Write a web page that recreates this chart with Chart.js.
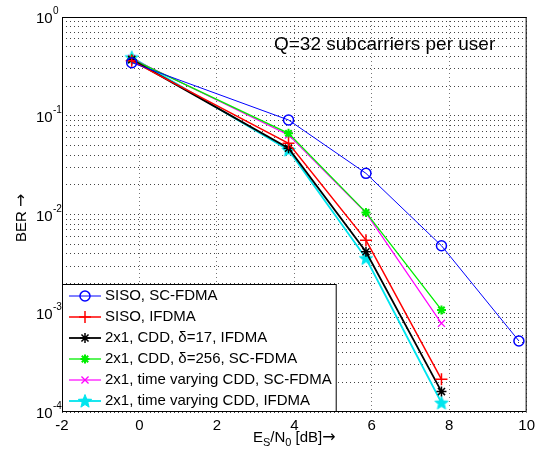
<!DOCTYPE html>
<html>
<head>
<meta charset="utf-8">
<script src="https://cdn.jsdelivr.net/npm/chart.js@4/dist/chart.umd.min.js"></script>
<style>
  html, body { margin: 0; padding: 0; background: #fff; }
  canvas { display: block; }
</style>
</head>
<body>
<canvas id="berChart" width="540" height="449"></canvas>
<script>
// Es/N0 points (dB)
var snrLong = [-0.2, 3.85, 5.85, 7.8, 9.8];
var snrShort = [-0.2, 3.85, 5.85, 7.8];

// BER values
var berSisoSc = [0.345, 0.0906, 0.0261, 0.00483, 0.000524];
var berSisoIf = [0.36, 0.0526, 0.0055, 0.000214];
var berCdd17 = [0.37, 0.047, 0.0042, 0.000161];
var berCdd256 = [0.375, 0.0664, 0.0105, 0.00108];
var berTvSc = [0.38, 0.064, 0.0104, 0.00079];
var berTvIf = [0.39, 0.045, 0.0036, 0.000124];

var seriesLabels = [
    "SISO, SC-FDMA",
    "SISO, IFDMA",
    "2x1, CDD, \u03b4=17, IFDMA",
    "2x1, CDD, \u03b4=256, SC-FDMA",
    "2x1, time varying CDD, SC-FDMA",
    "2x1, time varying CDD, IFDMA"
];

var xTicks = [-2, 0, 2, 4, 6, 8, 10];
var yDecades = [-4, -3, -2, -1, 0];

var FONT = "Liberation Sans, Arial, sans-serif";
var ARROW_FONT = "DejaVu Sans, sans-serif";

function pts(xs, ys) {
    var out = [];
    for (var i = 0; i < ys.length; i++) out.push({ x: xs[i], y: ys[i] });
    return out;
}

// filled pentagram marker like matlab 'p'
function pentagram(color) {
    var c = document.createElement("canvas");
    c.width = 16; c.height = 16;
    var g = c.getContext("2d");
    g.fillStyle = color;
    g.strokeStyle = color;
    g.lineWidth = 1;
    g.beginPath();
    for (var i = 0; i < 10; i++) {
        var r = (i % 2 == 0) ? 7 : 3;
        var a = -Math.PI / 2 + i * Math.PI / 5;
        var px = 8 + r * Math.cos(a), py = 8.5 + r * Math.sin(a);
        if (i == 0) g.moveTo(px, py); else g.lineTo(px, py);
    }
    g.closePath();
    g.fill();
    g.stroke();
    return c;
}

var datasets = [
    { label: seriesLabels[0], data: pts(snrLong, berSisoSc), borderColor: "#0000ff", backgroundColor: "rgba(0,0,0,0)",
      borderWidth: 1, pointStyle: "circle", pointRadius: 5, pointBorderWidth: 1.5 },
    { label: seriesLabels[1], data: pts(snrShort, berSisoIf), borderColor: "#ff0000", backgroundColor: "#ff0000",
      borderWidth: 1.5, pointStyle: "cross", pointRadius: 6, pointBorderWidth: 1.5 },
    { label: seriesLabels[2], data: pts(snrShort, berCdd17), borderColor: "#000000", backgroundColor: "#000000",
      borderWidth: 1.8, pointStyle: "star", pointRadius: 5, pointBorderWidth: 1.5 },
    { label: seriesLabels[3], data: pts(snrShort, berCdd256), borderColor: "#00ee00", backgroundColor: "#00ee00",
      borderWidth: 1.3, pointStyle: "star", pointRadius: 4.5, pointBorderWidth: 2 },
    { label: seriesLabels[4], data: pts(snrShort, berTvSc), borderColor: "#ff00ff", backgroundColor: "#ff00ff",
      borderWidth: 1.2, pointStyle: "crossRot", pointRadius: 5, pointBorderWidth: 1.3 },
    { label: seriesLabels[5], data: pts(snrShort, berTvIf), borderColor: "#00e5ee", backgroundColor: "#00e5ee",
      borderWidth: 1.8, pointStyle: pentagram("#00e5ee"), pointRadius: 7, pointBorderWidth: 1 }
];

var decorPlugin = {
    id: "decor",
    afterDatasetsDraw: function (chart) {
        var ctx = chart.ctx, a = chart.chartArea;
        var ys = chart.scales.y;
        ctx.save();

        // axes box
        ctx.strokeStyle = "#000";
        ctx.lineWidth = 1;
        ctx.strokeRect(a.left + 0.5, a.top + 0.5, a.right - a.left - 1, a.bottom - a.top - 1);

        // y tick labels 10^n
        ctx.fillStyle = "#000";
        ctx.textBaseline = "alphabetic";
        for (var i = 0; i < yDecades.length; i++) {
            var y = ys.getPixelForValue(Math.pow(10, yDecades[i]));
            ctx.font = "15px " + FONT;
            ctx.textAlign = "left";
            ctx.fillText("10", 36, y + 6);
            ctx.font = "10px " + FONT;
            ctx.fillText(yDecades[i] == 0 ? "0" : "-" + Math.abs(yDecades[i]), 53, y - 3);
        }

        // y title
        ctx.save();
        ctx.translate(26, 220);
        ctx.rotate(-Math.PI / 2);
        ctx.font = "15px " + FONT;
        ctx.textAlign = "left";
        var bw = ctx.measureText("BER ").width;
        ctx.fillText("BER ", -22, 0);
        ctx.font = "16px " + ARROW_FONT;
        ctx.fillText("\u2192", -22 + bw, 0);
        ctx.restore();

        // x title with subscripts
        var cx = (a.left + a.right) / 2;
        var parts = [["E", "15px " + FONT, 0], ["S", "11px " + FONT, 4], ["/N", "15px " + FONT, 0],
                     ["0", "11px " + FONT, 4], [" [dB]", "15px " + FONT, 0], ["\u2192", "16px " + ARROW_FONT, 0]];
        var total = 0;
        for (var i = 0; i < parts.length; i++) {
            ctx.font = parts[i][1];
            total += ctx.measureText(parts[i][0]).width;
        }
        var px = cx - total / 2;
        ctx.textAlign = "left";
        for (var i = 0; i < parts.length; i++) {
            ctx.font = parts[i][1];
            ctx.fillText(parts[i][0], px, 442 + parts[i][2]);
            px += ctx.measureText(parts[i][0]).width;
        }

        // annotation
        ctx.font = "19px " + FONT;
        ctx.fillText("Q=32 subcarriers per user", 274, 50);

        // legend inside, bottom-left
        ctx.font = "15px " + FONT;
        var maxW = 0;
        for (var i = 0; i < seriesLabels.length; i++) {
            maxW = Math.max(maxW, ctx.measureText(seriesLabels[i]).width);
        }
        var rowH = 21;
        var boxW = 43 + maxW + 4;
        var boxH = rowH * seriesLabels.length + 2;
        var bx = a.left, by = a.bottom - boxH;
        ctx.fillStyle = "#fff";
        ctx.fillRect(bx, by, boxW, boxH);
        ctx.strokeStyle = "#000";
        ctx.lineWidth = 1;
        ctx.strokeRect(bx + 0.5, by + 0.5, boxW, boxH - 1);
        for (var i = 0; i < chart.data.datasets.length; i++) {
            var ds = chart.data.datasets[i];
            var ry = by + 12 + i * rowH;
            ctx.strokeStyle = ds.borderColor;
            ctx.lineWidth = ds.borderWidth;
            ctx.beginPath();
            ctx.moveTo(bx + 7, ry);
            ctx.lineTo(bx + 39, ry);
            ctx.stroke();
            ctx.fillStyle = ds.backgroundColor;
            ctx.lineWidth = ds.pointBorderWidth;
            Chart.helpers.drawPoint(ctx, { pointStyle: ds.pointStyle, radius: ds.pointRadius, rotation: 0, borderWidth: ds.pointBorderWidth }, bx + 23, ry);
            ctx.fillStyle = "#000";
            ctx.textBaseline = "middle";
            ctx.fillText(ds.label, bx + 43, ry);
        }
        ctx.restore();
    }
};

new Chart("berChart", {
    type: "line",
    data: { datasets: datasets },
    options: {
        responsive: false,
        animation: false,
        devicePixelRatio: 1,
        layout: { padding: { top: 17, right: 13, left: 0, bottom: 0 } },
        plugins: { legend: { display: false }, tooltip: { enabled: false } },
        elements: { line: { tension: 0 } },
        scales: {
            x: {
                type: "linear",
                min: -2,
                max: 10,
                afterBuildTicks: function (s) {
                    s.ticks = xTicks.map(function (v) { return { value: v }; });
                },
                afterFit: function (s) { s.height = 37; },
                grid: { color: "#777", drawTicks: false, lineWidth: 1 },
                border: { display: false, dash: [1, 3] },
                ticks: { color: "#000", font: { family: FONT, size: 15 }, padding: 5, maxRotation: 0 }
            },
            y: {
                type: "logarithmic",
                min: 1e-4,
                max: 1,
                afterBuildTicks: function (s) {
                    var t = [];
                    for (var d = -4; d < 0; d++) {
                        for (var m = 1; m < 10; m++) t.push({ value: m * Math.pow(10, d) });
                    }
                    t.push({ value: 1 });
                    s.ticks = t;
                },
                afterFit: function (s) { s.width = 62; },
                grid: { color: "#444", drawTicks: false, lineWidth: 1 },
                border: { display: false, dash: [1, 3] },
                ticks: { display: false }
            }
        }
    },
    plugins: [decorPlugin]
});
</script>
</body>
</html>
